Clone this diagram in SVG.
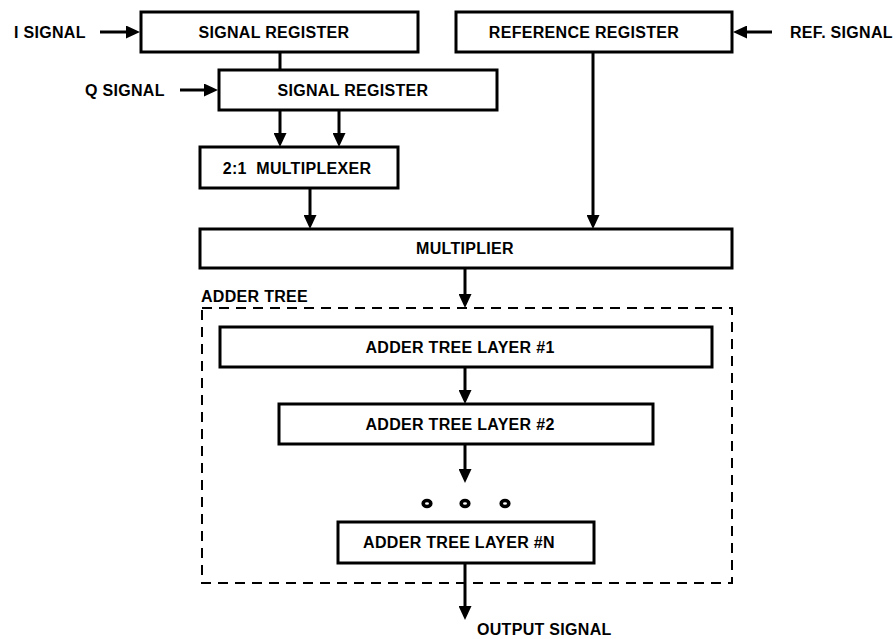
<svg xmlns="http://www.w3.org/2000/svg" width="896" height="639" viewBox="0 0 896 639">
  <style>
    .box { fill: #fff; stroke: #000; stroke-width: 3; }
    .frame { fill: none; stroke: #000; stroke-width: 2; stroke-dasharray: 10 7; }
    .wire { fill: none; stroke: #000; stroke-width: 3; }
    .arrow { marker-end: url(#head); }
    .dot { fill: #fff; stroke: #000; stroke-width: 3.6; }
    text { font-family: "Liberation Sans", Arial, sans-serif; font-weight: bold; font-size: 16px; fill: #000; letter-spacing: 0.3px; white-space: pre; }
    .c { text-anchor: middle; }
  </style>
  <defs>
    <marker id="head" viewBox="0 0 14 13" refX="7" refY="6.5" markerWidth="14" markerHeight="13" markerUnits="userSpaceOnUse" orient="auto">
      <path d="M0,0 L14,6.5 L0,13 Z" fill="#000"/>
    </marker>
  </defs>
  <rect width="896" height="639" fill="#fff"/>

  <!-- adder tree enclosure -->
  <g id="adder-tree">
    <rect class="frame" x="202" y="308" width="530" height="275"/>
    <text x="201" y="302">ADDER TREE</text>
  </g>

  <!-- input and output labels -->
  <g id="labels">
    <text x="14" y="38">I SIGNAL</text>
    <text x="85" y="96">Q SIGNAL</text>
    <text x="790" y="38">REF. SIGNAL</text>
    <text x="477" y="635">OUTPUT SIGNAL</text>
  </g>

  <g id="connectors">
    <line class="wire arrow" x1="100" y1="32" x2="133" y2="32"/>
    <line class="wire arrow" x1="180" y1="90" x2="211" y2="90"/>
    <line class="wire arrow" x1="772" y1="32" x2="740" y2="32"/>
    <line class="wire" x1="280" y1="52" x2="280" y2="70"/>
    <line class="wire arrow" x1="280" y1="110" x2="280" y2="140"/>
    <line class="wire arrow" x1="339" y1="110" x2="339" y2="140"/>
    <line class="wire arrow" x1="310" y1="188" x2="310" y2="222"/>
    <line class="wire arrow" x1="593" y1="52" x2="593" y2="222"/>
    <line class="wire arrow" x1="465" y1="268" x2="465" y2="301"/>
    <line class="wire arrow" x1="465" y1="367" x2="465" y2="397"/>
    <line class="wire arrow" x1="465" y1="444" x2="465" y2="476"/>
    <line class="wire arrow" x1="465" y1="563" x2="465" y2="613"/>
  </g>

  <g id="signal-register-i">
    <rect class="box" x="141" y="12" width="277" height="40"/>
    <text class="c" x="274" y="38">SIGNAL REGISTER</text>
  </g>
  <g id="signal-register-q">
    <rect class="box" x="219" y="70" width="278" height="40"/>
    <text class="c" x="353" y="96">SIGNAL REGISTER</text>
  </g>
  <g id="multiplexer">
    <rect class="box" x="200" y="147" width="198" height="41"/>
    <text class="c" x="297" y="174">2:1  MULTIPLEXER</text>
  </g>
  <g id="reference-register">
    <rect class="box" x="456" y="12" width="276" height="40"/>
    <text class="c" x="584" y="38">REFERENCE REGISTER</text>
  </g>
  <g id="multiplier">
    <rect class="box" x="200" y="229" width="532" height="39"/>
    <text class="c" x="465" y="254">MULTIPLIER</text>
  </g>
  <g id="layer-1">
    <rect class="box" x="220" y="327" width="492" height="40"/>
    <text class="c" x="460" y="353">ADDER TREE LAYER #1</text>
  </g>
  <g id="layer-2">
    <rect class="box" x="279" y="404" width="374" height="40"/>
    <text class="c" x="460" y="430">ADDER TREE LAYER #2</text>
  </g>

  <!-- ellipsis between layers -->
  <g id="ellipsis">
    <ellipse class="dot" cx="427" cy="503.5" rx="3.8" ry="3"/>
    <ellipse class="dot" cx="465" cy="503.5" rx="3.8" ry="3"/>
    <ellipse class="dot" cx="505" cy="503.5" rx="3.8" ry="3"/>
  </g>

  <g id="layer-n">
    <rect class="box" x="338" y="522" width="256" height="41"/>
    <text class="c" x="459" y="548">ADDER TREE LAYER #N</text>
  </g>
</svg>
